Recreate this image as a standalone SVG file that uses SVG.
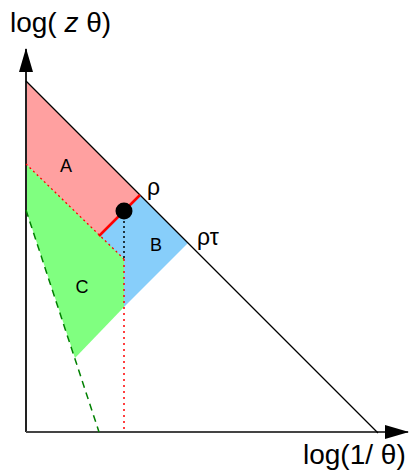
<svg xmlns="http://www.w3.org/2000/svg" width="412" height="470" viewBox="0 0 412 470">
<defs>
<marker id="ah" markerWidth="24" markerHeight="14" refX="23" refY="7" orient="auto" markerUnits="userSpaceOnUse">
<path d="M0,0 L24,7 L0,14 Z" fill="#000"/>
</marker>
<style>
.lbl{font-family:"Liberation Sans",Arial,sans-serif;font-size:18px;fill:#000}
.ax{font-family:"Liberation Sans",Arial,sans-serif;font-size:28px;fill:#000}
.gr{font-family:"Liberation Sans",Arial,sans-serif;font-size:23px;fill:#000}
</style>
</defs>
<g id="regionA"><polygon points="26,81 140,195 99,236 26,164" fill="#ffa0a0"/><text class="lbl" x="66" y="172" text-anchor="middle">A</text></g>
<g id="regionB"><polygon points="140,195 188,243 124,307 124,259 99,236" fill="#87cefa"/><text class="lbl" x="156" y="251" text-anchor="middle">B</text></g>
<g id="regionC"><polygon points="26,164 124,259 124,307 75,358 26,210" fill="#80ff80"/><text class="lbl" x="82" y="293" text-anchor="middle">C</text></g>
<g id="connectors">
<line x1="26" y1="432" x2="26" y2="49" stroke="#222" stroke-width="2" marker-end="url(#ah)"/>
<line x1="26" y1="432" x2="408" y2="432" stroke="#444" stroke-width="2" marker-end="url(#ah)"/>
<line x1="26" y1="81" x2="378" y2="433" stroke="#000" stroke-width="1.2"/>
<line x1="140" y1="195" x2="99" y2="236" stroke="#ff0000" stroke-width="2.5"/>
<line x1="26" y1="164" x2="124" y2="259" stroke="#ff0000" stroke-width="1.3" stroke-dasharray="2,3"/>
<line x1="124" y1="259" x2="124" y2="432" stroke="#ff0000" stroke-width="1.5" stroke-dasharray="2,4"/>
<line x1="124" y1="211" x2="124" y2="259" stroke="#000" stroke-width="1.5" stroke-dasharray="2,3"/>
<line x1="26" y1="210" x2="99" y2="432" stroke="#008000" stroke-width="1.5" stroke-dasharray="7,5"/>
</g>
<g id="point"><circle cx="124" cy="211" r="8.5" fill="#000"/></g>
<text class="gr" x="147" y="195">ρ</text>
<text class="gr" x="197" y="245">ρτ</text>
<text class="ax" x="10" y="32">log( <tspan font-style="italic">z</tspan> θ)</text>
<text class="ax" x="303" y="464">log(1/ θ)</text>
</svg>
